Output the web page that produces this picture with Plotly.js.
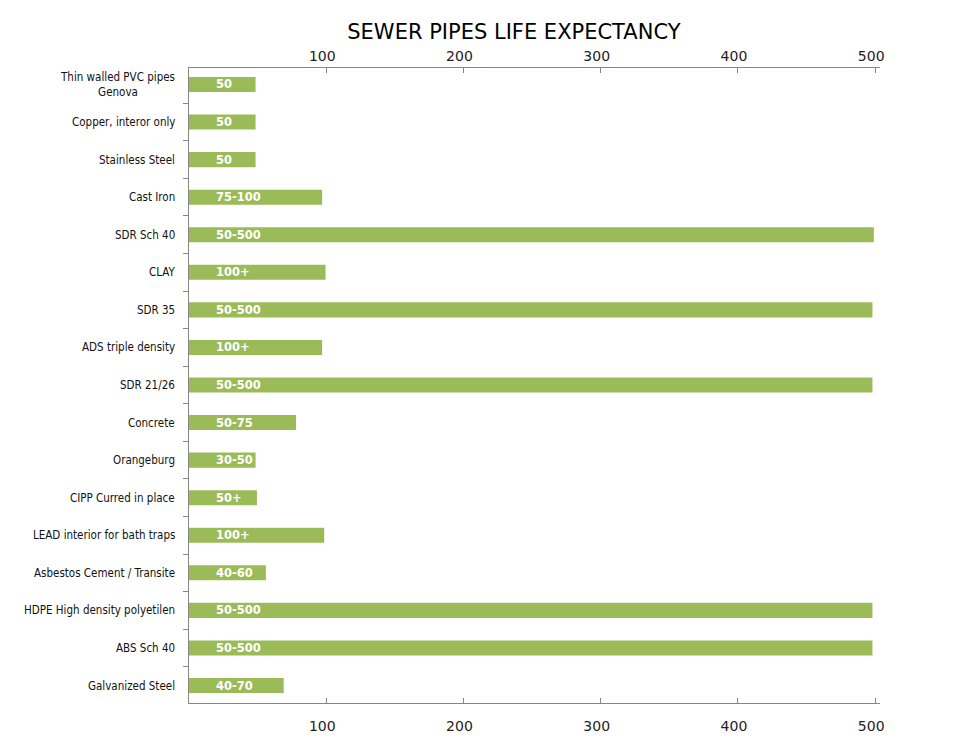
<!DOCTYPE html>
<html>
<head>
<meta charset="utf-8">
<script src="https://cdn.plot.ly/plotly-3.0.1.min.js"></script>
<style>html,body{margin:0;padding:0;background:#fff;}#chart{width:957px;height:745px;}</style>
</head>
<body>
<div id="chart"></div>
<script>
const categories = [
  "Thin walled PVC pipes<br>Genova",
  "Copper, interor only",
  "Stainless Steel",
  "Cast Iron",
  "SDR Sch 40",
  "CLAY",
  "SDR 35",
  "ADS triple density",
  "SDR 21/26",
  "Concrete",
  "Orangeburg",
  "CIPP Curred in place",
  "LEAD interior for bath traps",
  "Asbestos Cement / Transite",
  "HDPE High density polyetilen",
  "ABS Sch 40",
  "Galvanized Steel"
];
const values = [48.5, 48.5, 48.5, 97, 499, 99.5, 498, 97, 498, 78, 48.5, 49.5, 98.5, 56, 498, 498, 69];
const barLabels = ["50","50","50","75-100","50-500","100+","50-500","100+","50-500","50-75","30-50","50+","100+","40-60","50-500","50-500","40-70"];
const tickValues = [100, 200, 300, 400, 500];
const tickLabels = ["100", "200", "300", "400", "500"];

const axisColor = "#868686";
const barColor = "#9BBB59";

const traces = [
  {
    type: "bar", orientation: "h",
    x: values, y: categories,
    marker: {color: barColor},
    hoverinfo: "x+y", showlegend: false
  },
  {
    type: "bar", orientation: "h",
    x: values, y: categories,
    xaxis: "x2",
    marker: {color: barColor, opacity: 0},
    hoverinfo: "skip", showlegend: false
  }
];

const annotations = [];
categories.forEach((c, i) => {
  annotations.push({
    xref: "paper", yref: "y", x: 0, y: c, xshift: -12,
    xanchor: "right", yanchor: "middle", align: "center",
    text: c, showarrow: false,
    font: {family: "DejaVu Sans Condensed, Liberation Sans, sans-serif", size: 11.5, color: "#111"}
  });
  annotations.push({
    xref: "x", yref: "y", x: 18.5, y: c,
    xanchor: "left", yanchor: "middle",
    text: barLabels[i], showarrow: false,
    font: {family: "DejaVu Sans, Verdana, sans-serif", size: 11.5, color: "#ffffff", weight: "bold"}
  });
});

const xCommon = {
  range: [0, 503.5],
  tickmode: "array", tickvals: tickValues, ticktext: tickLabels,
  showline: true, linecolor: axisColor, linewidth: 1,
  ticks: "inside", ticklen: 5, tickcolor: axisColor, tickwidth: 1,
  showgrid: false, zeroline: false,
  ticklabelshift: -4,
  tickfont: {family: "DejaVu Sans, Verdana, sans-serif", size: 14, color: "#222"},
  fixedrange: true
};

const layout = {
  width: 957, height: 745,
  paper_bgcolor: "#fff", plot_bgcolor: "#fff",
  margin: {l: 189, r: 77, t: 68, b: 42, pad: 0},
  bargap: 0.6,
  title: {
    text: "SEWER PIPES LIFE EXPECTANCY",
    font: {family: "DejaVu Sans, Verdana, sans-serif", size: 21, color: "#000"},
    x: 0.537, xref: "container", xanchor: "center",
    y: 0.957, yref: "container", yanchor: "middle"
  },
  xaxis: Object.assign({}, xCommon, {side: "bottom", anchor: "y", ticklabelstandoff: 10}),
  xaxis2: Object.assign({}, xCommon, {side: "top", overlaying: "x", anchor: "y", matches: "x", ticklabelstandoff: 0}),
  yaxis: {
    type: "category", range: [16.466, -0.439],
    showline: true, linecolor: axisColor, linewidth: 1,
    ticks: "outside", tickson: "boundaries", ticklen: 5, tickcolor: axisColor,
    showticklabels: false, showgrid: false, zeroline: false, fixedrange: true
  },
  annotations: annotations
};

Plotly.newPlot("chart", traces, layout, {displayModeBar: false, staticPlot: true});
</script>
</body>
</html>
